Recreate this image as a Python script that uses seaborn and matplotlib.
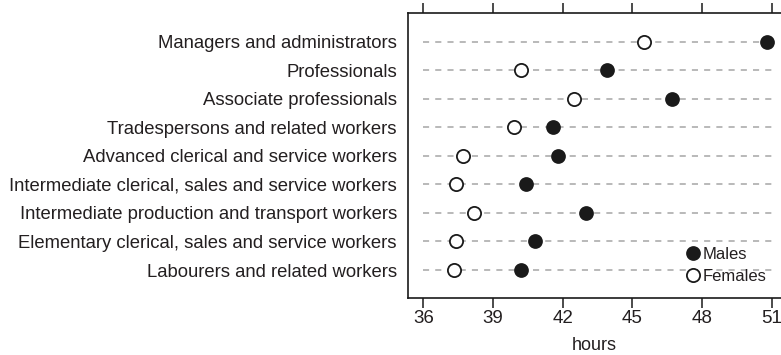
import pandas as pd
import numpy as np
import matplotlib
matplotlib.use('Agg')
import matplotlib.pyplot as plt
from matplotlib.lines import Line2D
import seaborn as sns

# 직업별 주당 근로시간 (남/여)
occupations = ['Managers and administrators',
               'Professionals',
               'Associate professionals',
               'Tradespersons and related workers',
               'Advanced clerical and service workers',
               'Intermediate clerical, sales and service workers',
               'Intermediate production and transport workers',
               'Elementary clerical, sales and service workers',
               'Labourers and related workers']
males = [50.8, 43.9, 46.7, 41.6, 41.8, 40.4, 43.0, 40.8, 40.2]
females = [45.5, 40.2, 42.5, 39.9, 37.7, 37.4, 38.2, 37.4, 37.3]
x_ticks = [36, 39, 42, 45, 48, 51]

df = pd.DataFrame({'occupation': occupations * 2,
                   'hours': males + females,
                   'sex': ['Males'] * len(males) + ['Females'] * len(females)})

sns.set_style('white')
plt.rcParams['font.family'] = ['Liberation Sans', 'DejaVu Sans']
txt = '#231f20'
ink = '#1a1a1a'

fig = plt.figure(figsize=(7.81, 3.55), dpi=100)
ax = fig.add_axes([0.5224, 0.1606, 0.4776, 0.8028])

# 점선 안내선
ax.hlines(range(len(occupations)), x_ticks[0], x_ticks[-1], colors='#a6a6a6',
          linestyles=(0, (4, 4)), linewidth=1.1, zorder=0)

sns.stripplot(data=df[df.sex == 'Males'], x='hours', y='occupation', order=occupations,
              jitter=False, color=ink, size=9.5, linewidth=1.1, edgecolor=ink,
              ax=ax, zorder=3)
sns.stripplot(data=df[df.sex == 'Females'], x='hours', y='occupation', order=occupations,
              jitter=False, color='white', size=9.5, linewidth=1.3, edgecolor=ink,
              ax=ax, zorder=3)

ax.set_xlim(35.34, 51.4)
ax.set_ylim(8.98, -1.0)
ax.set_xticks(x_ticks)
ax.set_xlabel('hours', fontsize=13, color=txt, labelpad=7)
ax.set_ylabel('')
ax.tick_params(axis='x', which='both', top=True, bottom=True, direction='out',
               length=7, width=1.1, color=ink, labelsize=13.5, labelcolor=txt, pad=2)
ax.tick_params(axis='y', length=0, labelsize=13.3, labelcolor=txt, pad=8)

for s in ['left', 'top', 'bottom']:
    ax.spines[s].set_visible(True)
    ax.spines[s].set_color(ink)
    ax.spines[s].set_linewidth(1.2)
ax.spines['right'].set_visible(False)

# 범례
handles = [Line2D([], [], ls='none', marker='o', ms=9.5, mfc=ink, mec=ink, mew=1.1),
           Line2D([], [], ls='none', marker='o', ms=9.5, mfc='white', mec=ink, mew=1.3)]
ax.legend(handles, ['Males', 'Females'], loc='lower left', bbox_to_anchor=(0.71, 0.007),
          frameon=False, fontsize=12, handletextpad=0.1, handlelength=1.0,
          labelspacing=0.45, borderpad=0.2, labelcolor=txt)

fig.savefig('out.png', dpi=100)
